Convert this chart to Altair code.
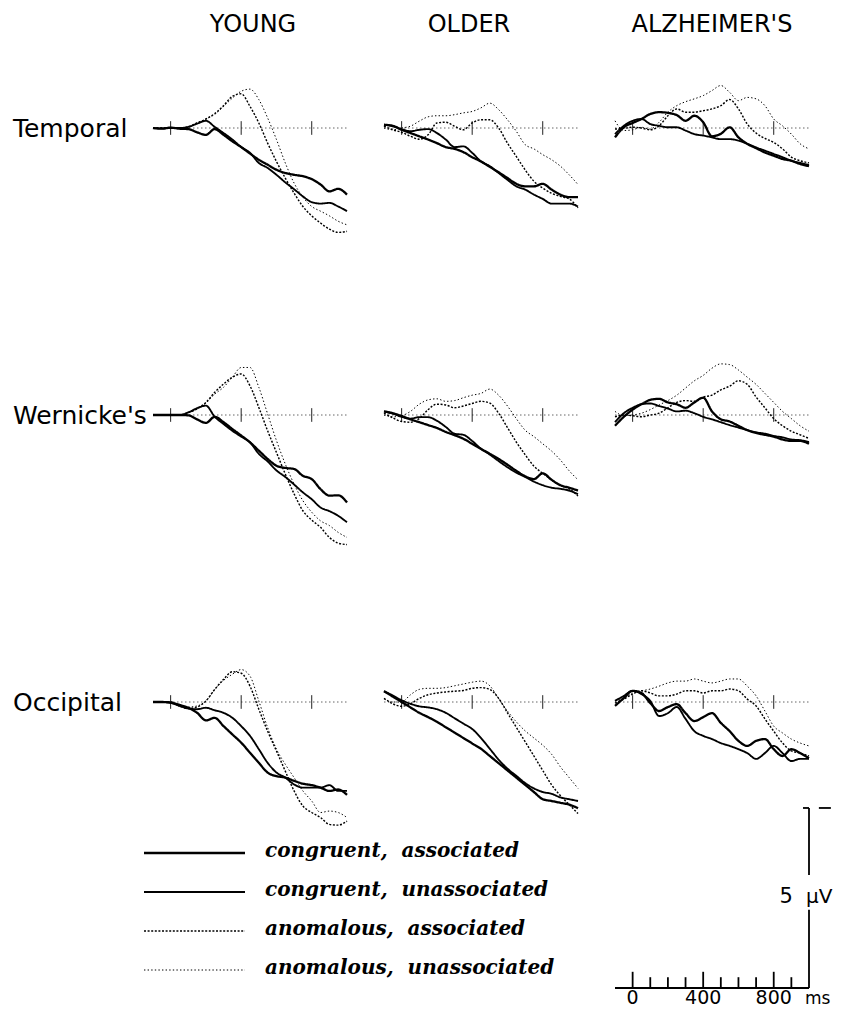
import altair as alt
import pandas as pd

# ---------------- data ----------------
times = [-100, -50, 0, 50, 100, 150, 200, 250, 300, 350, 400, 450, 500,
         550, 600, 650, 700, 750, 800, 850, 900, 950, 1000]
groups = ["YOUNG", "OLDER", "ALZHEIMER'S"]
sites = ["Temporal", "Wernicke's", "Occipital"]
conditions = ["congruent, associated", "congruent, unassociated",
              "anomalous, associated", "anomalous, unassociated"]
legend_labels = ["congruent,\u00a0 associated", "congruent,\u00a0 unassociated",
                 "anomalous,\u00a0 associated", "anomalous,\u00a0 unassociated"]
heading_x = [467, 382, 450]          # ms, centre of each column heading
panel_ticks = [0, 400, 800]          # ms
scale_major = [0, 400, 800]          # ms
scale_minor = [100, 200, 300, 500, 600, 700, 900]
bar_uv = 5                           # calibration bar, microvolts

# amplitudes in microvolts (negative plotted up)
# YOUNG
yt_ca = [0, 0.02, -0.01, 0.02, 0.03, 0.12, 0.19, 0.03, 0.19, 0.37, 0.53, 0.71, 0.88, 1.02, 1.16, 1.25, 1.30, 1.34, 1.42, 1.57, 1.76, 1.69, 1.85]
yt_cu = [0, 0.01, 0, 0, -0.03, -0.12, -0.20, -0.03, 0.14, 0.32, 0.53, 0.69, 0.97, 1.11, 1.30, 1.51, 1.70, 1.90, 2.06, 2.10, 2.08, 2.18, 2.31]
yt_aa = [0, 0, 0.01, 0, -0.03, -0.14, -0.25, -0.40, -0.62, -0.88, -0.95, -0.60, -0.14, 0.42, 0.93, 1.39, 1.81, 2.18, 2.44, 2.64, 2.81, 2.90, 2.87]
yt_au = [0, 0, 0, 0, -0.03, -0.14, -0.25, -0.38, -0.60, -0.83, -1.02, -1.08, -0.79, -0.28, 0.32, 0.97, 1.53, 1.92, 2.18, 2.31, 2.44, 2.59, 2.69]

yw_ca = [0, 0, 0, 0, 0.01, 0.12, 0.22, 0.05, 0.20, 0.39, 0.57, 0.76, 0.99, 1.22, 1.41, 1.47, 1.50, 1.69, 1.78, 2.06, 2.24, 2.23, 2.43]
yw_cu = [0, 0, 0, 0, -0.07, -0.19, -0.26, 0.05, 0.25, 0.44, 0.60, 0.76, 1.08, 1.29, 1.54, 1.72, 1.93, 2.15, 2.34, 2.57, 2.67, 2.80, 2.98]
yw_aa = [0, 0, 0, 0, -0.07, -0.17, -0.35, -0.63, -0.86, -1.05, -1.14, -0.81, -0.21, 0.44, 1.04, 1.64, 2.19, 2.66, 2.92, 3.12, 3.40, 3.56, 3.60]
yw_au = [0, 0, 0, 0, -0.07, -0.17, -0.33, -0.58, -0.77, -1.05, -1.32, -1.32, -0.77, -0.03, 0.71, 1.36, 1.92, 2.38, 2.70, 2.94, 3.07, 3.26, 3.40]

yo_ca = [0, 0, 0.02, 0.08, 0.16, 0.30, 0.51, 0.44, 0.67, 0.90, 1.13, 1.41, 1.69, 1.96, 2.06, 2.10, 2.19, 2.27, 2.31, 2.38, 2.47, 2.43, 2.58]
yo_cu = [0, 0, 0.02, 0.11, 0.18, 0.20, 0.16, 0.23, 0.30, 0.44, 0.67, 0.94, 1.31, 1.69, 1.96, 2.10, 2.29, 2.38, 2.38, 2.38, 2.31, 2.47, 2.47]
yo_aa = [0, 0, 0, 0.11, 0.18, 0.14, -0.03, -0.35, -0.63, -0.84, -0.80, -0.44, 0.20, 0.81, 1.36, 1.92, 2.47, 2.89, 3.07, 3.21, 3.40, 3.42, 3.31]
yo_au = [0, 0, 0, 0.08, 0.14, 0.11, -0.03, -0.35, -0.60, -0.77, -0.90, -0.72, -0.03, 0.71, 1.31, 1.73, 2.10, 2.47, 2.75, 3.07, 3.03, 3.07, 3.21]

# OLDER
ot_ca = [-0.09, -0.06, 0.05, 0.14, 0.23, 0.32, 0.42, 0.53, 0.58, 0.67, 0.81, 0.93, 1.08, 1.23, 1.39, 1.55, 1.62, 1.62, 1.55, 1.71, 1.85, 1.92, 1.92]
ot_cu = [-0.09, -0.05, 0.03, 0.09, 0.05, 0.03, 0.14, 0.32, 0.53, 0.51, 0.69, 0.93, 1.06, 1.25, 1.44, 1.62, 1.71, 1.85, 1.97, 2.10, 2.10, 2.10, 2.18]
ot_aa = [-0.05, 0.05, 0.12, 0.23, 0.31, 0.19, -0.14, -0.16, -0.05, 0.05, -0.14, -0.23, -0.23, 0.00, 0.42, 0.79, 1.16, 1.48, 1.67, 1.81, 1.90, 1.97, 2.22]
ot_au = [0, 0.05, 0, -0.05, -0.19, -0.31, -0.34, -0.34, -0.37, -0.42, -0.46, -0.56, -0.69, -0.51, -0.23, 0.09, 0.46, 0.58, 0.74, 0.88, 1.06, 1.30, 1.57]

ow_ca = [-0.10, -0.05, 0.03, 0.12, 0.20, 0.28, 0.36, 0.47, 0.56, 0.66, 0.80, 0.94, 1.08, 1.22, 1.38, 1.55, 1.70, 1.78, 1.62, 1.80, 1.95, 2.02, 2.10]
ow_cu = [-0.10, -0.04, 0.05, 0.10, 0.06, 0.06, 0.16, 0.33, 0.52, 0.55, 0.72, 0.94, 1.10, 1.28, 1.45, 1.60, 1.72, 1.85, 1.95, 2.02, 2.05, 2.10, 2.20]
ow_aa = [-0.05, 0.08, 0.18, 0.20, 0.10, -0.15, -0.30, -0.28, -0.20, -0.25, -0.32, -0.38, -0.33, -0.05, 0.35, 0.75, 1.10, 1.42, 1.62, 1.80, 1.95, 2.05, 2.25]
ow_au = [0, 0.05, 0.02, -0.10, -0.30, -0.42, -0.45, -0.38, -0.40, -0.48, -0.55, -0.60, -0.72, -0.55, -0.25, 0.10, 0.42, 0.60, 0.80, 1.00, 1.25, 1.55, 1.80]

oo_ca = [-0.30, -0.15, 0.00, 0.15, 0.30, 0.42, 0.55, 0.70, 0.85, 1.00, 1.15, 1.30, 1.50, 1.70, 1.90, 2.10, 2.30, 2.50, 2.70, 2.75, 2.80, 2.85, 2.95]
oo_cu = [-0.30, -0.18, -0.05, 0.05, 0.12, 0.15, 0.20, 0.30, 0.45, 0.60, 0.75, 1.00, 1.30, 1.60, 1.85, 2.05, 2.25, 2.40, 2.50, 2.55, 2.65, 2.70, 2.75]
oo_aa = [-0.10, 0.05, 0.12, 0.05, -0.10, -0.20, -0.25, -0.28, -0.30, -0.32, -0.38, -0.40, -0.35, -0.10, 0.30, 0.70, 1.10, 1.50, 1.90, 2.30, 2.60, 2.85, 3.10]
oo_au = [-0.10, 0.00, 0.00, -0.20, -0.35, -0.38, -0.38, -0.40, -0.45, -0.50, -0.55, -0.58, -0.45, -0.10, 0.25, 0.55, 0.80, 1.00, 1.20, 1.45, 1.80, 2.10, 2.40]

# ALZHEIMER'S
at_ca = [0.26, -0.02, -0.14, -0.25, -0.39, -0.44, -0.42, -0.36, -0.20, -0.34, -0.16, 0.23, 0.16, -0.02, 0.26, 0.44, 0.56, 0.68, 0.77, 0.86, 0.91, 1.00, 1.06]
at_cu = [0.17, -0.06, -0.20, -0.25, -0.11, -0.06, -0.02, -0.02, 0.07, 0.17, 0.21, 0.26, 0.31, 0.31, 0.35, 0.44, 0.54, 0.63, 0.72, 0.81, 0.91, 0.97, 1.03]
at_aa = [0.03, 0.01, -0.02, 0, 0.05, -0.06, -0.34, -0.53, -0.44, -0.44, -0.48, -0.53, -0.62, -0.79, -0.53, -0.11, 0.14, 0.29, 0.40, 0.58, 0.81, 0.91, 0.97]
at_au = [-0.20, 0.07, 0.05, -0.02, 0.03, -0.16, -0.44, -0.62, -0.73, -0.81, -0.90, -1.04, -1.18, -0.99, -0.76, -0.85, -0.81, -0.62, -0.25, -0.06, 0.17, 0.44, 0.58]

aw_ca = [0.30, 0.05, -0.15, -0.30, -0.42, -0.45, -0.35, -0.30, -0.20, -0.35, -0.48, -0.10, 0.12, 0.18, 0.30, 0.42, 0.50, 0.55, 0.60, 0.68, 0.72, 0.72, 0.80]
aw_cu = [0.20, -0.05, -0.20, -0.30, -0.32, -0.25, -0.18, -0.10, -0.12, -0.05, 0.05, 0.12, 0.20, 0.28, 0.35, 0.42, 0.48, 0.52, 0.58, 0.62, 0.68, 0.70, 0.75]
aw_aa = [0.05, 0.00, 0.02, 0.05, 0.00, -0.05, -0.20, -0.35, -0.40, -0.38, -0.50, -0.55, -0.70, -0.80, -0.95, -0.85, -0.50, -0.20, 0.10, 0.30, 0.45, 0.55, 0.65]
aw_au = [-0.10, 0.02, 0.00, -0.05, -0.15, -0.28, -0.40, -0.55, -0.75, -0.95, -1.10, -1.30, -1.42, -1.40, -1.25, -1.05, -0.85, -0.60, -0.35, -0.10, 0.10, 0.30, 0.45]

ao_ca = [0.11, -0.11, -0.31, -0.25, 0.03, 0.25, 0.14, 0.06, 0.31, 0.53, 0.42, 0.31, 0.58, 0.81, 1.08, 1.22, 1.08, 1.03, 1.31, 1.50, 1.31, 1.42, 1.56]
ao_cu = [-0.03, -0.17, -0.31, -0.22, -0.03, 0.39, 0.31, 0.14, 0.47, 0.81, 0.94, 1.03, 1.14, 1.22, 1.31, 1.42, 1.58, 1.42, 1.22, 1.42, 1.64, 1.58, 1.58]
ao_aa = [0.03, -0.08, -0.22, -0.31, -0.25, -0.17, -0.17, -0.22, -0.31, -0.31, -0.25, -0.31, -0.31, -0.36, -0.31, -0.08, 0.11, 0.47, 0.81, 1.14, 1.36, 1.42, 1.50]
ao_au = [-0.03, -0.11, -0.25, -0.31, -0.36, -0.44, -0.53, -0.58, -0.58, -0.64, -0.58, -0.53, -0.58, -0.64, -0.64, -0.44, -0.17, 0.25, 0.67, 0.86, 1.03, 1.14, 1.22]

series = {
    ("Temporal", "YOUNG"): [yt_ca, yt_cu, yt_aa, yt_au],
    ("Wernicke's", "YOUNG"): [yw_ca, yw_cu, yw_aa, yw_au],
    ("Occipital", "YOUNG"): [yo_ca, yo_cu, yo_aa, yo_au],
    ("Temporal", "OLDER"): [ot_ca, ot_cu, ot_aa, ot_au],
    ("Wernicke's", "OLDER"): [ow_ca, ow_cu, ow_aa, ow_au],
    ("Occipital", "OLDER"): [oo_ca, oo_cu, oo_aa, oo_au],
    ("Temporal", "ALZHEIMER'S"): [at_ca, at_cu, at_aa, at_au],
    ("Wernicke's", "ALZHEIMER'S"): [aw_ca, aw_cu, aw_aa, aw_au],
    ("Occipital", "ALZHEIMER'S"): [ao_ca, ao_cu, ao_aa, ao_au],
}

# ---------------- styling ----------------
FONT = "DejaVu Sans"
LEG_FONT = "DejaVu Serif"
PW, PH = 194, 144          # panel size (x: -100..1000 ms, y: -2..2 uV)
ROW_GAP, COL_GAP = 143, 37
BH = 80                     # bottom (legend / calibration) row height
stroke_widths = [2.3, 1.0, 2.6, 1.2]
stroke_dashes = [[1, 0], [1, 0], [2, 1.6], [1.4, 2.2]]

x_scale = alt.Scale(domain=[-100, 1000], nice=False, zero=False)
y_scale = alt.Scale(domain=[-2, 2], reverse=True, nice=False, zero=False)
w_scale = alt.Scale(domain=conditions, range=stroke_widths)
d_scale = alt.Scale(domain=conditions, range=stroke_dashes)


def panel(site, gi, group, first_row, first_col):
    rows = []
    for cond, vals in zip(conditions, series[(site, group)]):
        for t, v in zip(times, vals):
            rows.append({"time": t, "amp": v, "cond": cond})
    df = pd.DataFrame(rows)

    base = alt.Chart(pd.DataFrame({"t0": [times[0]], "t1": [times[-1]], "v": [0]})).mark_rule(
        color="#555", strokeWidth=0.9, strokeDash=[1.5, 2.5]
    ).encode(
        x=alt.X("t0:Q", scale=x_scale, axis=None), x2="t1",
        y=alt.Y("v:Q", scale=y_scale, axis=None),
    )
    ticks = alt.Chart(pd.DataFrame({"t": panel_ticks, "lo": [-0.19] * 3, "hi": [0.19] * 3})).mark_rule(
        color="#222", strokeWidth=1
    ).encode(
        x=alt.X("t:Q", scale=x_scale, axis=None),
        y=alt.Y("lo:Q", scale=y_scale, axis=None), y2="hi",
    )
    lines = alt.Chart(df).mark_line(interpolate="monotone", color="black", strokeCap="butt").encode(
        x=alt.X("time:Q", scale=x_scale, axis=None),
        y=alt.Y("amp:Q", scale=y_scale, axis=None),
        strokeWidth=alt.StrokeWidth("cond:N", scale=w_scale, legend=None),
        strokeDash=alt.StrokeDash("cond:N", scale=d_scale, legend=None),
    )
    layers = [base, ticks, lines]
    if first_row:
        layers.append(
            alt.Chart(pd.DataFrame({"t": [heading_x[gi]], "v": [-2.67], "s": [group]})).mark_text(
                align="center", baseline="alphabetic", font=FONT, fontSize=24, color="black"
            ).encode(x=alt.X("t:Q", scale=x_scale, axis=None),
                     y=alt.Y("v:Q", scale=y_scale, axis=None), text="s:N")
        )
    if first_col:
        layers.append(
            alt.Chart(pd.DataFrame({"t": [-894], "v": [0.26], "s": [site]})).mark_text(
                align="left", baseline="alphabetic", font=FONT, fontSize=25, color="black"
            ).encode(x=alt.X("t:Q", scale=x_scale, axis=None),
                     y=alt.Y("v:Q", scale=y_scale, axis=None), text="s:N")
        )
    return alt.layer(*layers).properties(width=PW, height=PH)


cells = []
for si, site in enumerate(sites):
    for gi, g in enumerate(groups):
        cells.append(panel(site, gi, g, si == 0, gi == 0))

# ---------------- legend (sits under the YOUNG / OLDER columns) ----------------
leg_df = pd.DataFrame({
    "cond": conditions, "label": legend_labels,
    "x0": [-9] * 4, "x1": [92] * 4, "tx": [112] * 4,
    "row": [-64, -25, 14, 53],
})
lx = alt.Scale(domain=[0, PW], nice=False, zero=False)
ly = alt.Scale(domain=[0, BH], reverse=True, nice=False, zero=False)
leg_lines = alt.Chart(leg_df).mark_rule(color="black", strokeCap="butt").encode(
    x=alt.X("x0:Q", scale=lx, axis=None), x2="x1",
    y=alt.Y("row:Q", scale=ly, axis=None),
    strokeWidth=alt.StrokeWidth("cond:N", scale=w_scale, legend=None),
    strokeDash=alt.StrokeDash("cond:N", scale=d_scale, legend=None),
)
leg_text = alt.Chart(leg_df).mark_text(
    align="left", baseline="alphabetic", dy=4, font=LEG_FONT, fontStyle="italic",
    fontWeight="bold", fontSize=20, color="black"
).encode(
    x=alt.X("tx:Q", scale=lx, axis=None),
    y=alt.Y("row:Q", scale=ly, axis=None), text="label:N",
)
legend_chart = alt.layer(leg_lines, leg_text).properties(width=PW, height=BH)

empty_chart = alt.Chart(pd.DataFrame({"a": [0]})).mark_point(opacity=0).encode(
    x=alt.X("a:Q", axis=None), y=alt.Y("a:Q", axis=None)
).properties(width=PW, height=BH)

# ---------------- calibration bar ----------------
sx = alt.Scale(domain=[-100, 1000], nice=False, zero=False)
sy = alt.Scale(domain=[-1.972, 0.25], reverse=True, nice=False, zero=False)
seg = []
seg.append({"xa": -100, "xb": 1000, "ya": 0, "yb": 0})
for t in scale_minor:
    seg.append({"xa": t, "xb": t, "ya": 0, "yb": -0.3})
for t in scale_major:
    seg.append({"xa": t, "xb": t, "ya": 0, "yb": -0.45})
seg.append({"xa": 1000, "xb": 1000, "ya": 0, "yb": -bar_uv * 0.434})
seg.append({"xa": 1000, "xb": 1000, "ya": -bar_uv * 0.628, "yb": -bar_uv})
seg.append({"xa": 966, "xb": 1000, "ya": -bar_uv, "yb": -bar_uv})
seg.append({"xa": 1056, "xb": 1124, "ya": -bar_uv, "yb": -bar_uv})
seg_df = pd.DataFrame(seg)
scale_rules = alt.Chart(seg_df).mark_rule(color="black", strokeWidth=1.8).encode(
    x=alt.X("xa:Q", scale=sx, axis=None), x2="xb",
    y=alt.Y("ya:Q", scale=sy, axis=None), y2="yb",
)
tick_labels = alt.Chart(pd.DataFrame({"t": scale_major, "v": [0.44] * 3,
                                      "s": [str(t) for t in scale_major]})).mark_text(
    align="center", baseline="alphabetic", font=FONT, fontSize=19, color="black"
).encode(x=alt.X("t:Q", scale=sx, axis=None), y=alt.Y("v:Q", scale=sy, axis=None), text="s:N")
ms_label = alt.Chart(pd.DataFrame({"t": [977], "v": [0.44], "s": ["ms"]})).mark_text(
    align="left", baseline="alphabetic", font=FONT, fontSize=17, color="black"
).encode(x=alt.X("t:Q", scale=sx, axis=None), y=alt.Y("v:Q", scale=sy, axis=None), text="s:N")
five = alt.Chart(pd.DataFrame({"t": [909], "v": [-2.36], "s": [str(bar_uv)]})).mark_text(
    align="right", baseline="alphabetic", font=FONT, fontSize=21, color="black"
).encode(x=alt.X("t:Q", scale=sx, axis=None), y=alt.Y("v:Q", scale=sy, axis=None), text="s:N")
unit = alt.Chart(pd.DataFrame({"t": [983], "v": [-2.36], "s": ["\u03bcV"]})).mark_text(
    align="left", baseline="alphabetic", font=FONT, fontSize=20, color="black"
).encode(x=alt.X("t:Q", scale=sx, axis=None), y=alt.Y("v:Q", scale=sy, axis=None), text="s:N")
scale_chart = alt.layer(scale_rules, tick_labels, ms_label, five, unit).properties(width=PW, height=BH)

cells += [legend_chart, empty_chart, scale_chart]

chart = alt.concat(
    *cells, columns=3, spacing={"row": ROW_GAP, "column": COL_GAP}, bounds="flush"
).properties(
    padding={"left": 4, "top": 4, "right": 0, "bottom": -2},
    background="white",
).configure_view(strokeWidth=0)

chart.save("out.html", embed_options={"renderer": "svg", "actions": False})
